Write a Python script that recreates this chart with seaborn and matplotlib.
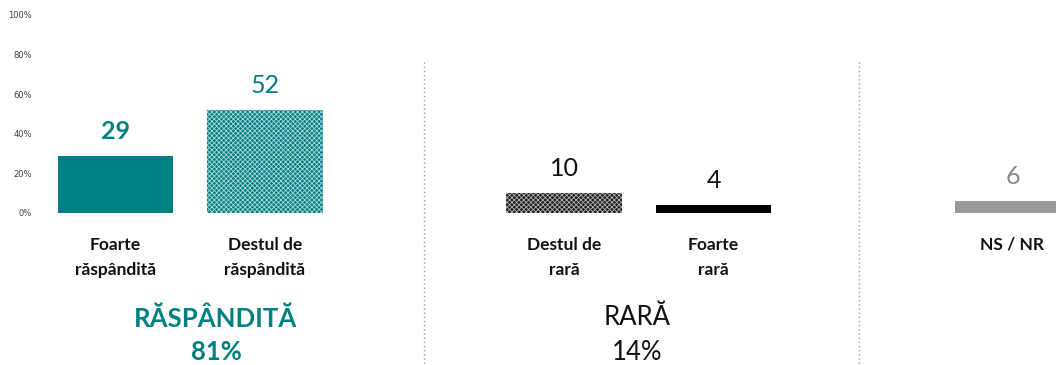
import matplotlib
matplotlib.use("Agg")
import matplotlib.pyplot as plt
import seaborn as sns
import pandas as pd

# Survey answers and their shares (%)
categories = ["Foarte\nrăspândită", "Destul de\nrăspândită", "Destul de\nrară", "Foarte\nrară", "NS / NR"]
values = [29, 52, 10, 4, 6]
group_names = ["RĂSPÂNDITĂ", "RARĂ"]
group_totals = [81, 14]
y_ticks = [0, 20, 40, 60, 80, 100]

TEAL = "#008080"
FONT = ["Lato", "DejaVu Sans"]

sns.set_theme(style="white")
plt.rcParams["font.family"] = FONT
plt.rcParams["hatch.linewidth"] = 0.6

W, H = 1056, 365
fig = plt.figure(figsize=(W / 100, H / 100), dpi=100)

# axes frame in pixels: left, right, top (100%), bottom (0%)
L, R, T, B = 36, 1056, 15, 213
ax = fig.add_axes([L / W, (H - B) / H, (R - L) / W, (B - T) / H])


def frac(py):
    """pixel row -> axes fraction along y"""
    return (B - py) / (B - T)


# slot layout: two answers per group, one empty slot between groups
slots = [0, 1, 3, 4, 6]
x0, unit = 115.5, 149.5

df = pd.DataFrame({"slot": slots, "value": values, "cat": categories})
sns.barplot(data=df, x="slot", y="value", native_scale=True, width=0.77,
            color=TEAL, ax=ax, saturation=1)

styles = [
    dict(fc=TEAL, ec=TEAL, hatch=None),
    dict(fc=TEAL, ec="#a8d6d6", hatch="xxxxxxx"),
    dict(fc="#1e1e1e", ec="#b0b0b0", hatch="xxxxxxx"),
    dict(fc="#000000", ec="#000000", hatch=None),
    dict(fc="#999999", ec="#999999", hatch=None),
]
for patch, st in zip(ax.patches, styles):
    patch.set_facecolor(st["fc"])
    patch.set_edgecolor(st["ec"])
    patch.set_linewidth(0)
    if st["hatch"]:
        patch.set_hatch(st["hatch"])

ax.set_xlim((L - x0) / unit, (R - x0) / unit)
ax.set_ylim(0, 100)
ax.set_yticks(y_ticks)
ax.set_yticklabels([f"{t}%" for t in y_ticks], fontsize=6, color="#404040",
                   family=["DejaVu Sans"])
ax.tick_params(axis="y", length=0, pad=3)
ax.set_xticks([])
ax.set_xlabel("")
ax.set_ylabel("")
for s in ax.spines.values():
    s.set_visible(False)

# value labels above the bars
label_styles = [
    dict(color=TEAL, weight="bold"),
    dict(color=TEAL, weight="normal"),
    dict(color="#111111", weight="normal"),
    dict(color="#111111", weight="normal"),
    dict(color="#888888", weight="normal"),
]
for s, v, st in zip(slots, values, label_styles):
    ax.annotate(f"{v}", xy=(s, v), xytext=(0, 12.2), textcoords="offset points",
                ha="center", va="baseline", fontsize=18, **st)

# category labels under the bars, one text per line
xt = ax.get_xaxis_transform()
line_rows = [250, 275]
for s, c in zip(slots, categories):
    for row, line in zip(line_rows, c.split("\n")):
        ax.text(s, frac(row), line, transform=xt, ha="center", va="baseline",
                fontsize=12.5, weight="bold", color="#111111", clip_on=False)

# group headings and totals
group_x = [0.672, 3.49]
head_rows = [327, 325]
group_styles = [dict(color=TEAL, weight="bold"), dict(color="#111111", weight="normal")]
for gx, hr, name, tot, st in zip(group_x, head_rows, group_names, group_totals, group_styles):
    ax.text(gx, frac(hr), name, transform=xt, ha="center", va="baseline",
            fontsize=18.5, clip_on=False, **st)
    ax.text(gx, frac(360), f"{tot}%", transform=xt, ha="center", va="baseline",
            fontsize=18.5, clip_on=False, **st)

# dotted separators between groups
for sx in [2.065, 4.975]:
    ax.plot([sx, sx], [frac(62), frac(365)], transform=xt,
            color="#9a9a9a", linestyle=(0, (1, 2)), linewidth=1, clip_on=False)

fig.savefig("out.png", dpi=100)
